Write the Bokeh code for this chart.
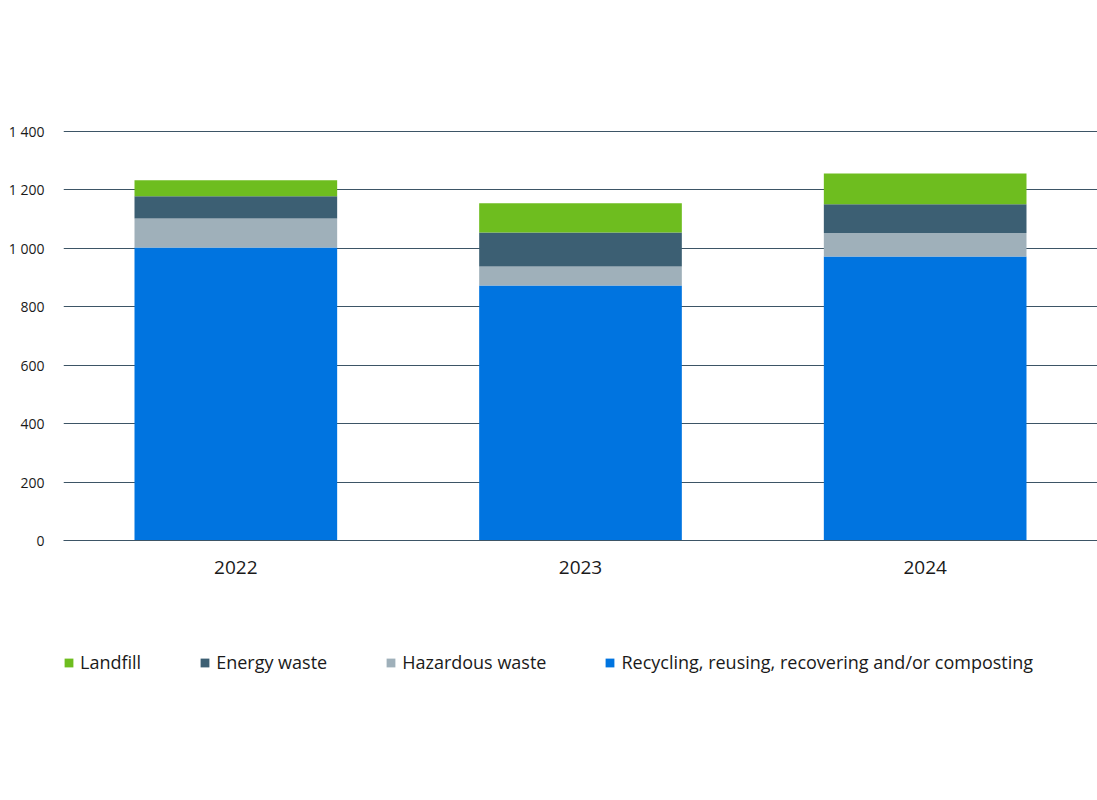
from bokeh.embed import file_html
from bokeh.resources import INLINE
from bokeh.layouts import column
from bokeh.models import FactorRange, Range1d, FixedTicker, Legend, LegendItem
from bokeh.plotting import figure

# Data (tonnes)
years = ["2022", "2023", "2024"]
recycling = [1003, 873, 972]
hazardous = [99, 65, 80]
energy = [76, 116, 99]
landfill = [55, 100, 105]

y_ticks = [0, 200, 400, 600, 800, 1000, 1200, 1400]
y_tick_labels = ["0", "200", "400", "600", "800", "1 000", "1 200", "1 400"]

series = ["recycling", "hazardous", "energy", "landfill"]
labels = ["Recycling, reusing, recovering and/or composting", "Hazardous waste",
          "Energy waste", "Landfill"]
colors = ["#0074e0", "#9fb0ba", "#3c5f73", "#6ebd1f"]

FONT = "Open Sans"

source = dict(years=years, recycling=recycling, hazardous=hazardous,
              energy=energy, landfill=landfill)

p = figure(x_range=FactorRange(*years, range_padding=0), y_range=Range1d(0, 1410),
           width=1097, height=600, output_backend="svg", toolbar_location=None,
           tools="", min_border_left=63, min_border_right=0, min_border_top=128,
           min_border_bottom=60, outline_line_color=None)

bars = p.vbar_stack(series, x="years", width=0.588, color=colors, line_color=None,
                    source=source)

# Axes
p.yaxis.ticker = FixedTicker(ticks=y_ticks)
p.yaxis.major_label_overrides = {t: l for t, l in zip(y_ticks, y_tick_labels)}
p.yaxis.axis_line_color = None
p.yaxis.major_tick_line_color = None
p.yaxis.minor_tick_line_color = None
p.yaxis.major_label_standoff = 13
p.yaxis.major_label_text_font = FONT
p.yaxis.major_label_text_font_size = "14px"
p.yaxis.major_label_text_color = "#1a1a1a"

p.xaxis.axis_line_color = "#3d5566"
p.xaxis.major_tick_line_color = None
p.xaxis.minor_tick_line_color = None
p.xaxis.major_label_standoff = 14
p.xaxis.major_label_text_font = FONT
p.xaxis.major_label_text_font_size = "19px"
p.xaxis.major_label_text_color = "#1a1a1a"

p.xgrid.grid_line_color = None
p.ygrid.grid_line_color = "#3d5566"
p.ygrid.grid_line_width = 1

# Legend strip underneath: same stack, hidden, only its legend shows
leg = figure(width=1097, height=100, output_backend="svg", toolbar_location=None,
             tools="", x_range=FactorRange(*years), y_range=Range1d(0, 1),
             x_axis_type=None, y_axis_type=None, outline_line_color=None,
             min_border=0)
leg.xgrid.visible = False
leg.ygrid.visible = False
swatches = leg.vbar_stack(series, x="years", width=0.5, color=colors,
                          line_color=None, source=source)
for r in swatches:
    r.visible = False

items = [LegendItem(label=labels[i], renderers=[swatches[i]]) for i in [3, 2, 1, 0]]
legend = Legend(items=items, orientation="horizontal", location=(0, 26),
                glyph_width=11, glyph_height=11, label_standoff=6, spacing=58,
                padding=0, margin=0, border_line_color=None,
                background_fill_alpha=0, inactive_fill_alpha=0,
                label_text_font=FONT, label_text_font_size="18px",
                label_text_color="#1a1a1a")
leg.add_layout(legend, "center")

open("out.html", "w").write(file_html(column(p, leg, spacing=0), INLINE))
